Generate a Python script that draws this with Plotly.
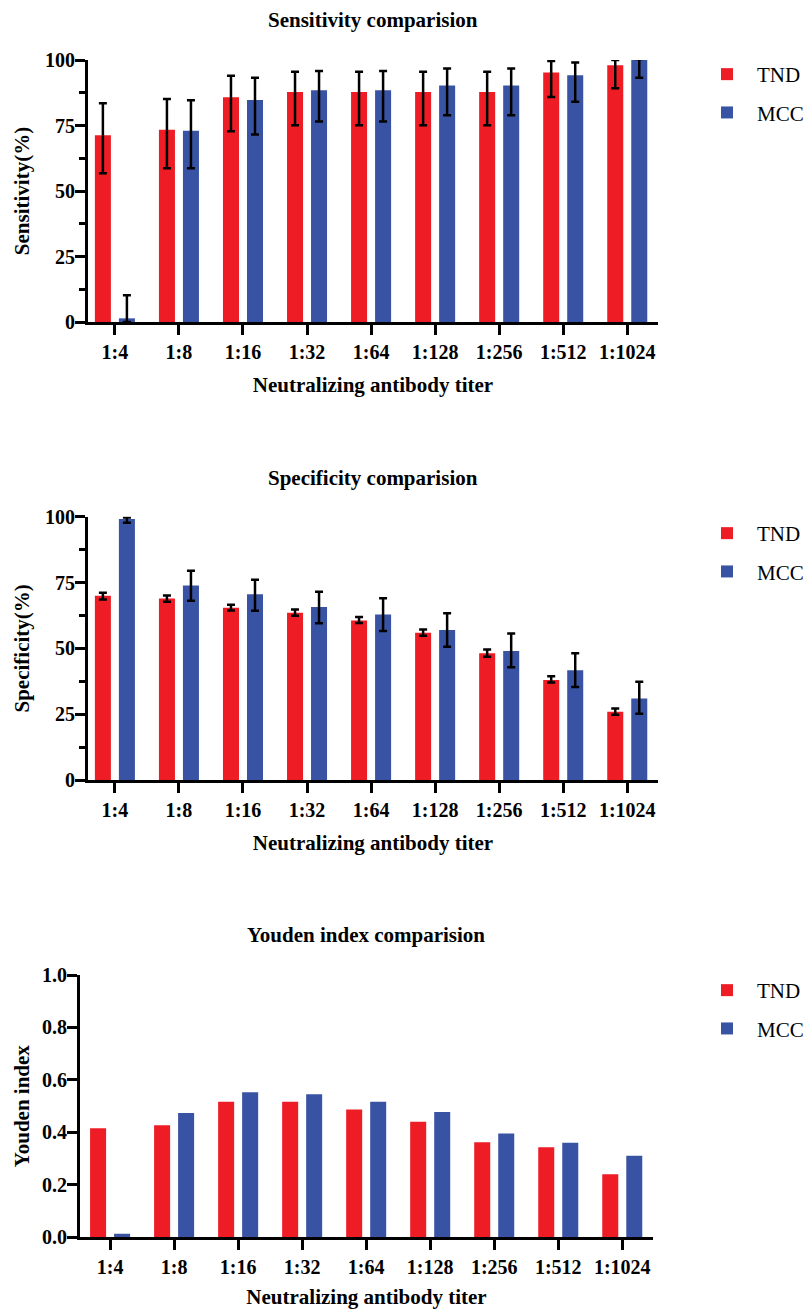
import plotly.graph_objects as go

# ---------------- data ----------------
titers = ["1:4", "1:8", "1:16", "1:32", "1:64", "1:128", "1:256", "1:512", "1:1024"]

sens_tnd = [71.3, 73.4, 85.8, 87.8, 87.8, 87.8, 87.8, 95.2, 98.0]
sens_tnd_hi = [83.5, 85.1, 94.0, 95.5, 95.5, 95.5, 95.5, 99.6, 100.0]
sens_tnd_lo = [56.8, 58.7, 72.8, 75.1, 75.1, 75.1, 75.1, 85.9, 89.2]
sens_mcc = [1.4, 73.0, 84.7, 88.5, 88.5, 90.3, 90.3, 94.2, 100.0]
sens_mcc_hi = [10.2, 84.6, 93.2, 95.8, 95.8, 96.8, 96.8, 99.0, 100.4]
sens_mcc_lo = [0.0, 58.7, 71.6, 76.5, 76.5, 78.9, 78.9, 84.1, 93.2]

spec_tnd = [70.0, 68.9, 65.4, 63.5, 60.6, 55.9, 48.1, 38.0, 25.9]
spec_tnd_hi = [71.1, 70.1, 66.6, 64.8, 61.9, 57.2, 49.6, 39.4, 27.2]
spec_tnd_lo = [68.6, 67.7, 64.4, 62.4, 59.6, 54.8, 46.8, 37.0, 24.8]
spec_mcc = [99.1, 73.9, 70.5, 65.7, 62.9, 57.0, 49.0, 41.7, 31.0]
spec_mcc_hi = [99.7, 79.5, 76.1, 71.5, 69.0, 63.3, 55.6, 48.1, 37.3]
spec_mcc_lo = [97.7, 68.1, 64.3, 59.5, 56.6, 50.6, 42.8, 35.3, 25.2]

youden_tnd = [0.416, 0.427, 0.517, 0.517, 0.487, 0.441, 0.362, 0.343, 0.240]
youden_mcc = [0.014, 0.474, 0.553, 0.545, 0.517, 0.478, 0.396, 0.360, 0.311]

series_names = ["TND", "MCC"]
colors = ["#EE1C25", "#3953A4"]

# ---------------- layout helpers ----------------
W, H = 805, 1309
FONT = "Liberation Serif"


def fx(px):
    return px / W


def fy(py):
    return 1 - py / H


fig = go.Figure()


def err(mean, hi, lo):
    return dict(type="data", symmetric=False,
                array=[h - m for h, m in zip(hi, mean)],
                arrayminus=[m - l for m, l in zip(mean, lo)],
                color="black", thickness=2.5, width=4)


panels = [
    dict(xa="x", ya="y", leg="legend",
         data=[(sens_tnd, err(sens_tnd, sens_tnd_hi, sens_tnd_lo)),
               (sens_mcc, err(sens_mcc, sens_mcc_hi, sens_mcc_lo))]),
    dict(xa="x2", ya="y2", leg="legend2",
         data=[(spec_tnd, err(spec_tnd, spec_tnd_hi, spec_tnd_lo)),
               (spec_mcc, err(spec_mcc, spec_mcc_hi, spec_mcc_lo))]),
    dict(xa="x3", ya="y3", leg="legend3",
         data=[(youden_tnd, None), (youden_mcc, None)]),
]

for p in panels:
    for i, (vals, e) in enumerate(p["data"]):
        kw = dict(x=titers, y=vals, name=series_names[i],
                  marker=dict(color=colors[i], line=dict(width=0)),
                  xaxis=p["xa"], yaxis=p["ya"], legend=p["leg"],
                  legendgroup=p["leg"] + series_names[i], showlegend=True)
        if e is not None:
            kw["error_y"] = e
        fig.add_trace(go.Bar(**kw))

tickfont = dict(family=FONT, size=20, color="black", weight="bold")
titlefont = dict(family=FONT, size=21, color="black", weight="bold")


def xaxis(dom, anchor, rng):
    return dict(domain=dom, anchor=anchor, range=rng, type="category",
                showline=True, linewidth=3, linecolor="black",
                ticks="outside", ticklen=10, tickwidth=3, tickcolor="black",
                tickfont=tickfont, showgrid=False, zeroline=False, automargin=False,
                title=dict(text="Neutralizing antibody titer", font=titlefont, standoff=16))


def yaxis(dom, anchor, rng, dtick, title, minor, standoff, fmt=None):
    d = dict(domain=dom, anchor=anchor, range=rng, dtick=dtick,
             showline=True, linewidth=3, linecolor="black",
             ticks="outside", ticklen=10, tickwidth=3, tickcolor="black",
             tickfont=tickfont, ticklabelstandoff=-4,
             showgrid=False, zeroline=False, automargin=False,
             title=dict(text=title, font=titlefont, standoff=standoff))
    if fmt:
        d["tickformat"] = fmt
    if minor:
        d["minor"] = dict(dtick=minor, ticks="outside", ticklen=6, tickwidth=3,
                          tickcolor="black", showgrid=False)
    return d


fig.update_layout(
    width=W, height=H,
    margin=dict(l=0, r=0, t=0, b=0, autoexpand=False),
    paper_bgcolor="white", plot_bgcolor="white",
    barmode="group", bargap=0.25, bargroupgap=0.333,
    xaxis=xaxis([fx(88), fx(658)], "y", [-0.42, 8.48]),
    yaxis=yaxis([fy(322), fy(60)], "x", [0, 100], 25, "Sensitivity(%)", 12.5, 10),
    xaxis2=xaxis([fx(88), fx(658)], "y2", [-0.42, 8.48]),
    yaxis2=yaxis([fy(780), fy(516.7)], "x2", [0, 100], 25, "Specificity(%)", 12.5, 10),
    xaxis3=xaxis([fx(80), fx(653)], "y3", [-0.47, 8.48]),
    yaxis3=yaxis([fy(1237.3), fy(975)], "x3", [0, 1], 0.2, "Youden index", None, 7, ".1f"),
)

legfont = dict(family=FONT, size=21, color="black")
for name, ymid in [("legend", 93.5), ("legend2", 552.5), ("legend3", 1009.5)]:
    fig.update_layout({name: dict(x=fx(697), y=fy(ymid), xanchor="left", yanchor="middle",
                                  font=legfont, bgcolor="rgba(0,0,0,0)", itemwidth=50,
                                  tracegroupgap=8, traceorder="grouped")})

for text, cx, cy in [("Sensitivity comparision", 373, 20),
                     ("Specificity comparision", 373, 478),
                     ("Youden index comparision", 366, 935)]:
    fig.add_annotation(text=text, x=fx(cx), y=fy(cy), xref="paper", yref="paper",
                       xanchor="center", yanchor="middle", showarrow=False,
                       font=titlefont)

fig.write_html("out.html", config={"displayModeBar": False},
               post_script="document.body.style.margin='0';")
